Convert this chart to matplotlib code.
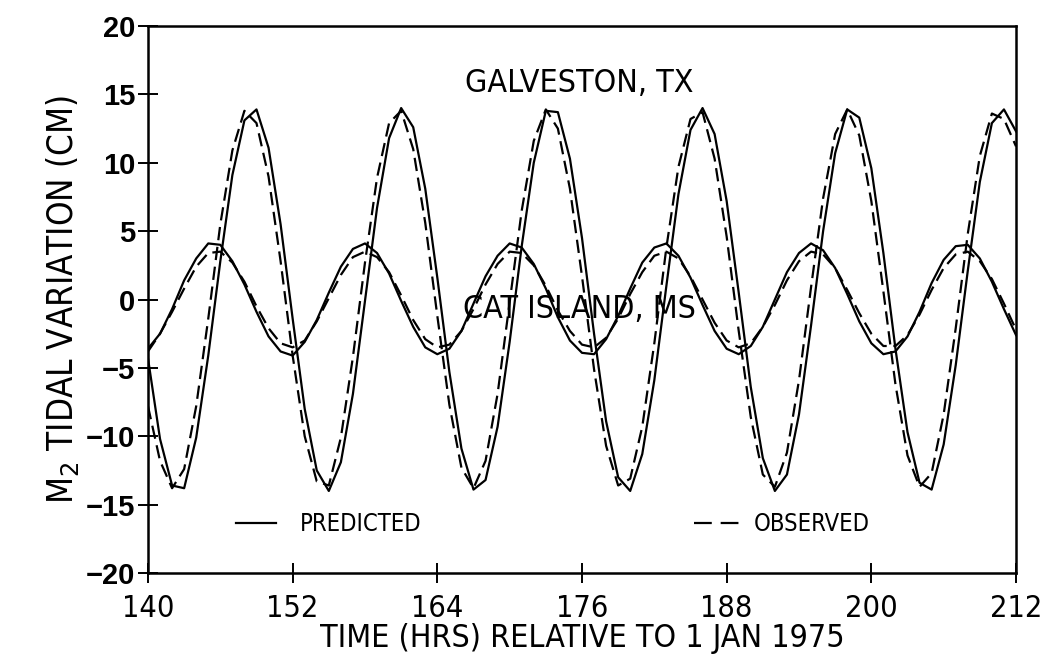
import numpy as np
import matplotlib
matplotlib.use("Agg")
import matplotlib.pyplot as plt
from matplotlib.lines import Line2D

# hourly values, 140..212 h
hours = np.arange(140, 213)

galveston_pred = [
    -4.3, -10.2, -13.6, -13.8, -10.1, -4.1, 2.8, 9.1, 13.1, 13.9,
    11.1, 5.5, -1.4, -8.0, -12.5, -14.0, -11.9, -6.9, -0.1, 6.7,
    11.8, 14.0, 12.6, 8.1, 1.6, -5.3, -10.9, -13.9, -13.2, -9.3,
    -3.1, 3.9, 10.0, 13.8, 13.7, 10.3, 4.5, -2.5, -8.9, -13.0,
    -14.0, -11.3, -5.9, 1.0, 7.7, 12.4, 14.0, 12.1, 7.2, 0.5,
    -6.4, -11.6, -14.0, -12.8, -8.4, -1.9, 5.0, 10.7, 13.9, 13.3,
    9.6, 3.4, -3.6, -9.7, -13.4, -13.9, -10.6, -4.8, 2.1, 8.6,
    12.9, 13.9, 12.3,
]
galveston_obs = [
    -7.8, -11.8, -13.8, -12.4, -7.8, -1.4, 5.5, 10.9, 13.8, 12.9,
    9.0, 2.8, -4.1, -10.0, -13.3, -13.6, -10.1, -4.2, 2.7, 8.9,
    12.9, 13.8, 11.0, 5.6, -1.2, -7.7, -12.3, -13.8, -11.8, -6.9,
    -0.2, 6.5, 11.6, 13.9, 12.5, 8.1, 1.7, -5.1, -10.7, -13.6,
    -13.1, -9.3, -3.2, 3.8, 9.7, 13.2, 13.7, 10.3, 4.6, -2.3,
    -8.6, -12.8, -13.7, -11.2, -5.9, 0.9, 7.4, 12.1, 13.9, 12.0,
    7.2, 0.6, -6.2, -11.4, -13.7, -12.7, -8.4, -2.1, 4.8, 10.5,
    13.6, 13.2, 11.2,
]
cat_pred = [
    -3.6, -2.5, -0.7, 1.4, 3.0, 4.1, 4.0, 2.8, 1.1, -0.9,
    -2.7, -3.8, -4.1, -3.1, -1.5, 0.5, 2.4, 3.7, 4.1, 3.4,
    1.9, -0.1, -2.0, -3.5, -4.0, -3.6, -2.3, -0.3, 1.7, 3.2,
    4.1, 3.8, 2.6, 0.8, -1.3, -3.0, -3.9, -4.0, -2.9, -1.2,
    0.8, 2.7, 3.8, 4.1, 3.2, 1.6, -0.4, -2.3, -3.6, -4.0,
    -3.4, -2.0, 0.0, 2.0, 3.4, 4.1, 3.6, 2.3, 0.4, -1.6,
    -3.2, -4.0, -3.8, -2.7, -0.9, 1.2, 2.9, 3.9, 4.0, 3.0,
    1.3, -0.7, -2.6,
]
cat_obs = [
    -3.8, -2.5, -0.9, 0.8, 2.4, 3.4, 3.5, 2.7, 1.3, -0.5,
    -2.1, -3.2, -3.5, -3.0, -1.6, 0.1, 1.8, 3.1, 3.5, 3.1,
    2.0, 0.3, -1.5, -2.9, -3.5, -3.3, -2.3, -0.7, 1.1, 2.6,
    3.5, 3.4, 2.5, 1.0, -0.8, -2.3, -3.3, -3.5, -2.8, -1.4,
    0.4, 2.0, 3.2, 3.5, 3.0, 1.7, 0.0, -1.7, -3.0, -3.5,
    -3.2, -2.0, -0.4, 1.4, 2.8, 3.5, 3.3, 2.3, 0.7, -1.0,
    -2.5, -3.4, -3.4, -2.6, -1.1, 0.7, 2.3, 3.3, 3.5, 2.8,
    1.5, -0.3, -2.2,
]

cond = dict(fontfamily="DejaVu Sans", fontstretch="condensed")
lw = 1.6
dash = (6, 3)

fig = plt.figure(figsize=(10.51, 6.6), dpi=100)
ax = fig.add_axes([0.1408, 0.1318, 0.8259, 0.8288])

ax.plot(hours, galveston_pred, color="black", lw=lw)
ax.plot(hours, galveston_obs, color="black", lw=lw, dashes=dash)
ax.plot(hours, cat_pred, color="black", lw=lw)
ax.plot(hours, cat_obs, color="black", lw=lw, dashes=dash)

ax.set_xlim(140, 212)
ax.set_ylim(-20, 20)
ax.set_xticks(range(140, 213, 12))
ax.set_yticks(range(-20, 21, 5))
ax.set_yticklabels([str(v).replace("-", "\u2212") for v in range(-20, 21, 5)],
                   fontfamily="Liberation Sans", fontweight="bold", fontsize=21)
ax.set_xticklabels([str(v) for v in range(140, 213, 12)], fontsize=22, **cond)
ax.tick_params(direction="inout", length=14, width=1.4)
ax.tick_params(axis="y", pad=2)
ax.tick_params(axis="x", pad=8)
for s in ax.spines.values():
    s.set_linewidth(1.8)

ax.set_xlabel("TIME (HRS) RELATIVE TO 1 JAN 1975", fontsize=23,
              labelpad=0, **cond)
ax.set_ylabel("M$_2$ TIDAL VARIATION (CM)", fontsize=25, labelpad=4, **cond)

ax.text(175.8, 15.8, "GALVESTON, TX", ha="center", va="center",
        fontsize=23, **cond)
ax.text(175.8, -0.7, "CAT ISLAND, MS", ha="center", va="center",
        fontsize=23, **cond)

h_pred = Line2D([], [], color="black", lw=lw)
h_obs = Line2D([], [], color="black", lw=lw, dashes=(8, 4))
leg_prop = {"family": "DejaVu Sans", "stretch": "condensed", "size": 17}
leg1 = ax.legend([h_pred], ["PREDICTED"], loc="center left",
                 bbox_to_anchor=(0.077, 0.09), frameon=False,
                 handlelength=1.7, handletextpad=1.0, prop=leg_prop)
ax.add_artist(leg1)
ax.legend([h_obs], ["OBSERVED"], loc="center left",
          bbox_to_anchor=(0.605, 0.09), frameon=False,
          handlelength=2.0, handletextpad=0.5, prop=leg_prop)

fig.savefig("out.png", dpi=100)
